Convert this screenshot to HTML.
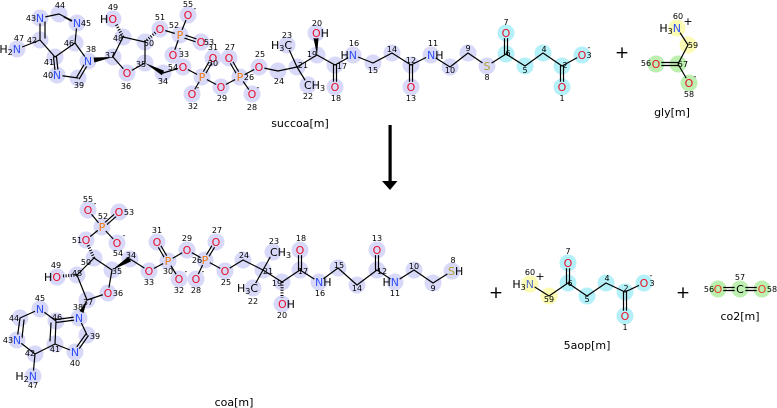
<!DOCTYPE html>
<html><head><meta charset="utf-8"><style>
html,body{margin:0;padding:0;background:#fff;}
svg{display:block;font-family:"DejaVu Sans","Liberation Sans",sans-serif;}
.n{font-size:8px;fill:#000;text-anchor:middle;}
.a{font-size:11px;text-anchor:middle;}
.N{fill:#3050f8;} .O{fill:#e8102a;} .P{fill:#f07a10;} .S{fill:#b0a030;} .K{fill:#000;}
.L{font-size:11px;fill:#000;text-anchor:middle;}
.ch{font-size:8px;fill:#000;text-anchor:middle;}
</style></head><body>
<svg width="777" height="408" viewBox="0 0 777 408" xmlns="http://www.w3.org/2000/svg">
<!-- highlight circles -->
<g fill="#d8d8f8">
<circle cx="59" cy="14" r="8.5"/><circle cx="40" cy="18" r="8.5"/><circle cx="77" cy="23" r="8.5"/><circle cx="40" cy="40" r="8.5"/><circle cx="17" cy="49" r="8.5"/><circle cx="55" cy="57" r="8.5"/><circle cx="75" cy="43" r="8.5"/><circle cx="88" cy="61" r="8.5"/><circle cx="57" cy="75" r="8.5"/><circle cx="78" cy="78" r="8.5"/><circle cx="113" cy="57" r="8.5"/><circle cx="127" cy="73" r="8.5"/><circle cx="145" cy="63" r="8.5"/><circle cx="163" cy="73" r="8.5"/><circle cx="123" cy="37" r="8.5"/><circle cx="113" cy="19" r="8.5"/><circle cx="145" cy="42" r="8.5"/><circle cx="160" cy="29" r="8.5"/><circle cx="180" cy="35" r="8.5"/><circle cx="188" cy="15" r="8.5"/><circle cx="201" cy="42" r="8.5"/><circle cx="173" cy="55" r="8.5"/><circle cx="183" cy="67" r="8.5"/><circle cx="202" cy="77" r="8.5"/><circle cx="213" cy="58" r="8.5"/><circle cx="192" cy="94" r="8.5"/><circle cx="221" cy="87" r="8.5"/><circle cx="240" cy="77" r="8.5"/><circle cx="229" cy="58" r="8.5"/><circle cx="252" cy="94" r="8.5"/><circle cx="259" cy="67" r="8.5"/><circle cx="278" cy="71" r="8.5"/><circle cx="297" cy="67" r="8.5"/><circle cx="287" cy="45" r="8.5"/><circle cx="308" cy="85" r="8.5"/><circle cx="317" cy="55" r="8.5"/><circle cx="316" cy="33" r="8.5"/><circle cx="335" cy="65" r="8.5"/><circle cx="335" cy="87" r="8.5"/><circle cx="353" cy="55" r="8.5"/><circle cx="373" cy="63" r="8.5"/><circle cx="392" cy="53" r="8.5"/><circle cx="411" cy="65" r="8.5"/><circle cx="411" cy="87" r="8.5"/><circle cx="431" cy="55" r="8.5"/><circle cx="450" cy="67" r="8.5"/><circle cx="468" cy="53" r="8.5"/><circle cx="487" cy="66" r="8.5"/>
<!-- bottom -->
<circle cx="88" cy="210" r="8.5"/><circle cx="119" cy="212" r="8.5"/><circle cx="102" cy="227" r="8.5"/><circle cx="86" cy="240" r="8.5"/><circle cx="117" cy="243" r="8.5"/><circle cx="94" cy="258" r="8.5"/><circle cx="112" cy="270" r="8.5"/><circle cx="130" cy="259" r="8.5"/><circle cx="57" cy="277" r="8.5"/><circle cx="77" cy="275" r="8.5"/><circle cx="108" cy="293" r="8.5"/><circle cx="87" cy="300" r="8.5"/><circle cx="79" cy="318" r="8.5"/><circle cx="87" cy="335" r="8.5"/><circle cx="75" cy="352" r="8.5"/><circle cx="55" cy="344" r="8.5"/><circle cx="56" cy="321" r="8.5"/><circle cx="40" cy="309" r="8.5"/><circle cx="20" cy="318" r="8.5"/><circle cx="17" cy="340" r="8.5"/><circle cx="35" cy="354" r="8.5"/><circle cx="33" cy="376" r="8.5"/><circle cx="149" cy="271" r="8.5"/><circle cx="168" cy="261" r="8.5"/><circle cx="157" cy="242" r="8.5"/><circle cx="179" cy="279" r="8.5"/><circle cx="187" cy="250" r="8.5"/><circle cx="205" cy="260" r="8.5"/><circle cx="216" cy="242" r="8.5"/><circle cx="196" cy="279" r="8.5"/><circle cx="225" cy="271" r="8.5"/><circle cx="243" cy="260" r="8.5"/><circle cx="263" cy="270" r="8.5"/><circle cx="273" cy="252" r="8.5"/><circle cx="253" cy="288" r="8.5"/><circle cx="282" cy="282" r="8.5"/><circle cx="282" cy="304" r="8.5"/><circle cx="300" cy="270" r="8.5"/><circle cx="300" cy="250" r="8.5"/><circle cx="319" cy="282" r="8.5"/><circle cx="338" cy="268" r="8.5"/><circle cx="357" cy="285" r="8.5"/><circle cx="377" cy="270" r="8.5"/><circle cx="377" cy="250" r="8.5"/><circle cx="395" cy="282" r="8.5"/><circle cx="414" cy="270" r="8.5"/><circle cx="433" cy="283" r="8.5"/><circle cx="452" cy="271" r="8.5"/>
</g>
<g fill="#b4f0f8">
<circle cx="506" cy="54" r="8.5"/><circle cx="506" cy="33" r="8.5"/><circle cx="525" cy="66" r="8.5"/><circle cx="543" cy="53" r="8.5"/><circle cx="562" cy="66" r="8.5"/><circle cx="562" cy="87" r="8.5"/><circle cx="582" cy="55" r="8.5"/>
<circle cx="568" cy="283" r="8.5"/><circle cx="568" cy="263" r="8.5"/><circle cx="587" cy="296" r="8.5"/><circle cx="606" cy="283" r="8.5"/><circle cx="625" cy="292" r="8.5"/><circle cx="625" cy="316" r="8.5"/><circle cx="644" cy="283" r="8.5"/>
</g>
<g fill="#fbfbb4">
<circle cx="677" cy="28" r="8.5"/><circle cx="688" cy="45" r="8.5"/>
<circle cx="530" cy="284" r="8.5"/><circle cx="549" cy="296" r="8.5"/>
</g>
<g fill="#bcefb0">
<circle cx="678" cy="64" r="8.5"/><circle cx="656" cy="64" r="8.5"/><circle cx="689" cy="83" r="8.5"/>
<circle cx="718" cy="289" r="8.5"/><circle cx="740" cy="289" r="8.5"/><circle cx="762" cy="289" r="8.5"/>
</g>

<!-- bonds -->
<g stroke="#000" stroke-width="1.2" fill="none" stroke-linecap="round">
<path d="M59,14L40,18M59,14L77,23M40,18L40,40M40,40L55,57M40,40L17,49M77,23L75,43M75,43L55,57M75,43L88,61M57,75L78,78M113,57L127,73M113,57L123,37M123,37L145,42M145,42L145,63M145,63L127,73M160,29L180,35M180,35L188,15M180,35L173,55M163,73L183,67M183,67L202,77M202,77L192,94M202,77L221,87M221,87L240,77M240,77L252,94M240,77L259,67M259,67L278,71M278,71L297,67M297,67L287,45M297,67L308,85M297,67L317,55M317,55L335,65M335,65L353,55M353,55L373,63M373,63L392,53M392,53L411,65M411,65L431,55M431,55L450,67M450,67L468,53M468,53L487,66M487,66L506,54M506,54L525,66M525,66L543,53M543,53L562,66M562,66L582,55M677,28L688,45M688,45L678,64M678,64L689,83"/>
<path d="M53.5,57L55.5,75M56.5,57L58.5,75M76.7,77.2L86.7,60.2M79.3,78.8L89.3,61.8M45,22L45,38M64,17L73,22M179.5,36.4L200.5,43.4M180.5,33.6L201.5,40.6M200.7,76.25L211.7,57.25M203.3,77.75L214.3,58.75M241.3,76.25L230.3,57.25M238.7,77.75L227.7,58.75M333.5,65L333.5,87M336.5,65L336.5,87M409.5,65L409.5,87M412.5,65L412.5,87M504.5,33L504.5,54M507.5,33L507.5,54M560.5,66L560.5,87M563.5,66L563.5,87M656,62.5L678,62.5M656,65.5L678,65.5"/>
<!-- bottom -->
<path d="M40,309L20,318M20,318L17,340M17,340L35,354M35,354L33,376M35,354L55,344M40,309L56,321M56,321L55,344M79,318L87,335M75,352L55,344M87,300L108,293M87,300L77,275M77,275L94,258M94,258L112,270M112,270L108,293M86,240L102,227M102,227L88,210M102,227L117,243M130,259L149,271M149,271L168,261M168,261L179,279M168,261L187,250M187,250L205,260M205,260L196,279M205,260L225,271M225,271L243,260M243,260L263,270M263,270L273,252M263,270L253,288M263,270L282,282M282,282L300,270M300,270L319,282M319,282L338,268M338,268L357,285M357,285L377,270M377,270L395,282M395,282L414,270M414,270L433,283M433,283L452,271M530,284L549,296M549,296L568,283M568,283L587,296M587,296L606,283M606,283L625,292M625,292L644,283"/>
<path d="M56,319.5L79,316.5M56,322.5L79,319.5M88.2,335.9L76.2,352.9M85.8,334.1L73.8,351.1M24,320L22,338M51,323L50,341M103,228.1L120,213.1M101,225.9L118,210.9M169.3,260.25L158.3,241.25M166.7,261.75L155.7,242.75M206.3,260.8L217.3,242.8M203.7,259.2L214.7,241.2M298.5,250L298.5,270M301.5,250L301.5,270M375.5,250L375.5,270M378.5,250L378.5,270M566.5,263L566.5,283M569.5,263L569.5,283M623.5,292L623.5,316M626.5,292L626.5,316M718,287.5L762,287.5M718,290.5L762,290.5"/>
<!-- hashed bonds -->
<path stroke-width="3" stroke-dasharray="1,1.6" stroke-linecap="butt" d="M123,37L116,24M145,42L156,32M77,275L63,276M94,258L88,245M282,282L282,298"/>
</g>
<g fill="#000">
<polygon points="113,57 94.4,62.5 93.6,57.5"/>
<polygon points="145,63 161.9,75.2 164.1,70.8"/>
<polygon points="317,55 318.5,38 313.5,38"/>
<polygon points="87,300 83.5,313 79.5,311"/>
<polygon points="112,270 131,261.5 128.5,256.5"/>
</g>

<!-- cover circles at heteroatoms -->
<g fill="#d8d8f8">
<circle cx="40" cy="18" r="5.5"/><circle cx="77" cy="23" r="5.5"/><circle cx="17" cy="49" r="5.5"/><circle cx="88" cy="61" r="5.5"/><circle cx="57" cy="75" r="5.5"/><circle cx="127" cy="73" r="5.5"/><circle cx="113" cy="19" r="5.5"/><circle cx="160" cy="29" r="5.5"/><circle cx="180" cy="35" r="5.5"/><circle cx="188" cy="15" r="5.5"/><circle cx="201" cy="42" r="5.5"/><circle cx="173" cy="55" r="5.5"/><circle cx="183" cy="67" r="5.5"/><circle cx="202" cy="77" r="5.5"/><circle cx="213" cy="58" r="5.5"/><circle cx="192" cy="94" r="5.5"/><circle cx="221" cy="87" r="5.5"/><circle cx="240" cy="77" r="5.5"/><circle cx="229" cy="58" r="5.5"/><circle cx="252" cy="94" r="5.5"/><circle cx="259" cy="67" r="5.5"/><circle cx="287" cy="45" r="5.5"/><circle cx="308" cy="85" r="5.5"/><circle cx="316" cy="33" r="5.5"/><circle cx="335" cy="87" r="5.5"/><circle cx="353" cy="55" r="5.5"/><circle cx="411" cy="87" r="5.5"/><circle cx="431" cy="55" r="5.5"/><circle cx="487" cy="66" r="5.5"/>
<circle cx="88" cy="210" r="5.5"/><circle cx="119" cy="212" r="5.5"/><circle cx="102" cy="227" r="5.5"/><circle cx="86" cy="240" r="5.5"/><circle cx="117" cy="243" r="5.5"/><circle cx="57" cy="277" r="5.5"/><circle cx="108" cy="293" r="5.5"/><circle cx="79" cy="318" r="5.5"/><circle cx="75" cy="352" r="5.5"/><circle cx="40" cy="309" r="5.5"/><circle cx="17" cy="340" r="5.5"/><circle cx="33" cy="376" r="5.5"/><circle cx="149" cy="271" r="5.5"/><circle cx="168" cy="261" r="5.5"/><circle cx="157" cy="242" r="5.5"/><circle cx="179" cy="279" r="5.5"/><circle cx="187" cy="250" r="5.5"/><circle cx="205" cy="260" r="5.5"/><circle cx="216" cy="242" r="5.5"/><circle cx="196" cy="279" r="5.5"/><circle cx="225" cy="271" r="5.5"/><circle cx="273" cy="252" r="5.5"/><circle cx="253" cy="288" r="5.5"/><circle cx="282" cy="304" r="5.5"/><circle cx="300" cy="250" r="5.5"/><circle cx="319" cy="282" r="5.5"/><circle cx="377" cy="250" r="5.5"/><circle cx="395" cy="282" r="5.5"/><circle cx="452" cy="271" r="5.5"/>
</g>
<g fill="#b4f0f8">
<circle cx="506" cy="33" r="5.5"/><circle cx="562" cy="87" r="5.5"/><circle cx="582" cy="55" r="5.5"/>
<circle cx="568" cy="263" r="5.5"/><circle cx="625" cy="316" r="5.5"/><circle cx="644" cy="283" r="5.5"/>
</g>
<g fill="#fbfbb4"><circle cx="677" cy="28" r="5.5"/><circle cx="530" cy="284" r="5.5"/></g>
<g fill="#bcefb0"><circle cx="656" cy="64" r="5.5"/><circle cx="689" cy="83" r="5.5"/><circle cx="718" cy="289" r="5.5"/><circle cx="740" cy="289" r="5.5"/><circle cx="762" cy="289" r="5.5"/></g>

<!-- atom symbols top -->
<g class="a">
<text x="40" y="22" class="N">N</text>
<text x="77" y="27" class="N">N</text>
<text x="21" y="53" text-anchor="end"><tspan class="K">H</tspan><tspan class="K" font-size="8" dy="2">2</tspan><tspan class="N" dy="-2">N</tspan></text>
<text x="88" y="65" class="N">N</text>
<text x="57" y="79" class="N">N</text>
<text x="127" y="77" class="O">O</text>
<text x="117" y="23" text-anchor="end"><tspan class="K">H</tspan><tspan class="O">O</tspan></text>
<text x="160" y="33" class="O">O</text>
<text x="180" y="39" class="P">P</text>
<text x="188" y="19" class="O">O</text>
<text x="201" y="46" class="O">O</text>
<text x="173" y="59" class="O">O</text>
<text x="183" y="71" class="O">O</text>
<text x="202" y="81" class="P">P</text>
<text x="213" y="62" class="O">O</text>
<text x="192" y="98" class="O">O</text>
<text x="221" y="91" class="O">O</text>
<text x="240" y="81" class="P">P</text>
<text x="229" y="62" class="O">O</text>
<text x="252" y="98" class="O">O</text>
<text x="259" y="71" class="O">O</text>
<text x="292" y="49" text-anchor="end" class="K">H<tspan font-size="8" dy="2">3</tspan><tspan dy="-2">C</tspan></text>
<text x="304" y="89" text-anchor="start" class="K">CH<tspan font-size="8" dy="2">3</tspan></text>
<text x="312" y="37" text-anchor="start"><tspan class="O">O</tspan><tspan class="K">H</tspan></text>
<text x="335" y="91" class="O">O</text>
<text x="357" y="59" text-anchor="end"><tspan class="K">H</tspan><tspan class="N">N</tspan></text>
<text x="411" y="91" class="O">O</text>
<text x="427" y="59" text-anchor="start"><tspan class="N">N</tspan><tspan class="K">H</tspan></text>
<text x="487" y="70" class="S">S</text>
<text x="506" y="37" class="O">O</text>
<text x="562" y="91" class="O">O</text>
<text x="582" y="59" class="O">O</text>
<text x="681" y="32" text-anchor="end"><tspan class="K">H</tspan><tspan class="K" font-size="8" dy="2">3</tspan><tspan class="N" dy="-2" fill="#5a70c8">N</tspan></text>
<text x="656" y="68" class="O" fill="#e04020">O</text>
<text x="689" y="87" class="O" fill="#e04020">O</text>
</g>
<!-- charges top -->
<g class="ch">
<text x="195" y="11">-</text><text x="180" y="51">-</text><text x="198" y="90">-</text><text x="258" y="90">-</text><text x="589" y="50">-</text><text x="695" y="79">-</text>
<text x="688" y="25" font-size="11">+</text>
</g>

<!-- atom symbols bottom -->
<g class="a">
<text x="88" y="214" class="O">O</text>
<text x="119" y="216" class="O">O</text>
<text x="102" y="231" class="P">P</text>
<text x="86" y="244" class="O">O</text>
<text x="117" y="247" class="O">O</text>
<text x="61" y="281" text-anchor="end"><tspan class="K">H</tspan><tspan class="O">O</tspan></text>
<text x="108" y="297" class="O">O</text>
<text x="79" y="322" class="N">N</text>
<text x="75" y="356" class="N">N</text>
<text x="40" y="313" class="N">N</text>
<text x="17" y="344" class="N">N</text>
<text x="37" y="380" text-anchor="end"><tspan class="K">H</tspan><tspan class="K" font-size="8" dy="2">2</tspan><tspan class="N" dy="-2">N</tspan></text>
<text x="149" y="275" class="O">O</text>
<text x="168" y="265" class="P">P</text>
<text x="157" y="246" class="O">O</text>
<text x="179" y="283" class="O">O</text>
<text x="187" y="254" class="O">O</text>
<text x="205" y="264" class="P">P</text>
<text x="216" y="246" class="O">O</text>
<text x="196" y="283" class="O">O</text>
<text x="225" y="275" class="O">O</text>
<text x="270" y="256" text-anchor="start" class="K">CH<tspan font-size="8" dy="2">3</tspan></text>
<text x="258" y="292" text-anchor="end" class="K">H<tspan font-size="8" dy="2">3</tspan><tspan dy="-2">C</tspan></text>
<text x="278" y="308" text-anchor="start"><tspan class="O">O</tspan><tspan class="K">H</tspan></text>
<text x="300" y="254" class="O">O</text>
<text x="315" y="286" text-anchor="start"><tspan class="N">N</tspan><tspan class="K">H</tspan></text>
<text x="377" y="254" class="O">O</text>
<text x="399" y="286" text-anchor="end"><tspan class="K">H</tspan><tspan class="N">N</tspan></text>
<text x="448" y="275" text-anchor="start"><tspan class="S">S</tspan><tspan class="K">H</tspan></text>
<text x="534" y="288" text-anchor="end"><tspan class="K">H</tspan><tspan class="K" font-size="8" dy="2">3</tspan><tspan dy="-2" fill="#5a70c8">N</tspan></text>
<text x="568" y="267" class="O">O</text>
<text x="625" y="320" class="O">O</text>
<text x="644" y="287" class="O">O</text>
<text x="718" y="293" fill="#e04020">O</text>
<text x="740" y="293" class="K">C</text>
<text x="762" y="293" fill="#e04020">O</text>
</g>
<g class="ch">
<text x="95" y="206">-</text><text x="124" y="238">-</text><text x="186" y="274">-</text><text x="203" y="274">-</text><text x="651" y="278">-</text>
<text x="540" y="280" font-size="11">+</text>
</g>

<!-- number labels -->
<g class="n">
<text x="60" y="8">44</text><text x="31" y="21">43</text><text x="86" y="26">45</text><text x="19" y="41">47</text><text x="32" y="43">42</text><text x="69" y="46">46</text><text x="49" y="65">41</text><text x="91" y="52">38</text><text x="48" y="78">40</text><text x="79" y="88">39</text><text x="110" y="58">37</text><text x="126" y="89">36</text><text x="141" y="67">35</text><text x="163" y="84">34</text><text x="118" y="41">48</text><text x="113" y="10">49</text><text x="149" y="46">50</text><text x="160" y="20">51</text><text x="174" y="28">52</text><text x="188" y="7">55</text><text x="209" y="45">53</text><text x="184" y="57">33</text><text x="173" y="70">54</text><text x="213" y="66">30</text><text x="213" y="50">31</text><text x="193" y="109">32</text><text x="222" y="101">29</text><text x="249" y="80">26</text><text x="230" y="50">27</text><text x="252" y="110">28</text><text x="260" y="57">25</text><text x="279" y="84">24</text><text x="303" y="68">21</text><text x="287" y="38">23</text><text x="308" y="99">22</text><text x="312" y="57">19</text><text x="317" y="26">20</text><text x="342" y="69">17</text><text x="336" y="101">18</text><text x="354" y="46">16</text><text x="373" y="73">15</text><text x="392" y="52">14</text><text x="411" y="63">12</text><text x="411" y="101">13</text><text x="433" y="46">11</text><text x="450" y="73">10</text><text x="468" y="51">9</text><text x="487" y="80">8</text><text x="508" y="56">6</text><text x="506" y="25">7</text><text x="525" y="73">5</text><text x="544" y="52">4</text><text x="565" y="68">2</text><text x="562" y="101">1</text><text x="589" y="58">3</text><text x="678" y="19">60</text><text x="693" y="48">59</text><text x="683" y="67">57</text><text x="646" y="66">56</text><text x="689" y="97">58</text>
<!-- bottom -->
<text x="88" y="202">55</text><text x="129" y="215">53</text><text x="103" y="219">52</text><text x="77" y="243">51</text><text x="118" y="256">54</text><text x="86" y="265">50</text><text x="117" y="274">35</text><text x="131" y="258">34</text><text x="56" y="268">49</text><text x="77" y="276">48</text><text x="118" y="296">36</text><text x="88" y="305">37</text><text x="78" y="310">38</text><text x="95" y="339">39</text><text x="75" y="366">40</text><text x="55" y="352">41</text><text x="57" y="320">46</text><text x="40" y="301">45</text><text x="14" y="321">44</text><text x="8" y="343">43</text><text x="30" y="356">42</text><text x="33" y="388">47</text><text x="149" y="285">33</text><text x="168" y="274">30</text><text x="157" y="233">31</text><text x="179" y="293">32</text><text x="187" y="241">29</text><text x="197" y="263">26</text><text x="217" y="233">27</text><text x="196" y="293">28</text><text x="226" y="285">25</text><text x="244" y="258">24</text><text x="268" y="274">21</text><text x="274" y="244">23</text><text x="253" y="304">22</text><text x="277" y="286">19</text><text x="282" y="318">20</text><text x="303" y="274">17</text><text x="301" y="241">18</text><text x="320" y="296">16</text><text x="339" y="268">15</text><text x="357" y="291">14</text><text x="382" y="274">12</text><text x="377" y="241">13</text><text x="395" y="296">11</text><text x="414" y="269">10</text><text x="433" y="291">9</text><text x="453" y="263">8</text>
<text x="530" y="275">60</text><text x="549" y="302">59</text><text x="570" y="286">6</text><text x="568" y="254">7</text><text x="587" y="302">5</text><text x="607" y="281">4</text><text x="626" y="291">2</text><text x="625" y="330">1</text><text x="652" y="286">3</text>
<text x="709" y="292">56</text><text x="740" y="280">57</text><text x="772" y="292">58</text>
</g>

<!-- plus signs -->
<g font-size="17" text-anchor="middle" fill="#000">
<text x="622" y="58">+</text><text x="496" y="298">+</text><text x="683" y="298">+</text>
</g>

<!-- arrow -->
<rect x="388.5" y="125" width="3.2" height="58" fill="#000"/>
<polygon points="382,181 397.5,181 390,190" fill="#000"/>

<!-- names -->
<text class="L" x="300" y="127">succoa[m]</text>
<text class="L" x="672" y="116">gly[m]</text>
<text class="L" x="234" y="406">coa[m]</text>
<text class="L" x="587" y="349">5aop[m]</text>
<text class="L" x="740" y="320">co2[m]</text>
</svg>
</body></html>
